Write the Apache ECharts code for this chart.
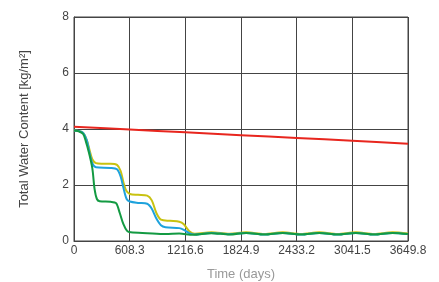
<!DOCTYPE html>
<html><head><meta charset="utf-8">
<script src="https://cdn.jsdelivr.net/npm/echarts@6/dist/echarts.min.js"></script>
<style>html,body{margin:0;padding:0;background:#fff}#c{width:439px;height:282px}</style>
</head><body><div id="c"></div>
<script>
const xTicks = [0, 608.3, 1216.6, 1824.9, 2433.2, 3041.5, 3649.8];
const yTicks = [0, 2, 4, 6, 8];
const redSeries = [[0,4.08],[608.3,3.98],[1216.6,3.88],[1824.9,3.78],[2433.2,3.68],[3041.5,3.58],[3649.8,3.47]];
const yellowSeries = [[0,3.95],[50,3.93],[100,3.86],[140,3.6],[170,3.25],[200,2.92],[240,2.78],[300,2.76],[400,2.76],[470,2.72],[510,2.5],[540,2.1],[570,1.8],[610,1.68],[700,1.65],[800,1.62],[850,1.45],[900,1.0],[950,0.76],[1050,0.72],[1150,0.69],[1200,0.6],[1260,0.35],[1320,0.26],[1500,0.31],[1700,0.26],[1880,0.31],[2080,0.25],[2280,0.31],[2480,0.25],[2680,0.31],[2880,0.25],[3080,0.31],[3280,0.25],[3480,0.31],[3649.8,0.27]];
const blueSeries = [[0,3.95],[50,3.93],[100,3.86],[140,3.6],[170,3.15],[200,2.78],[240,2.63],[400,2.61],[470,2.56],[510,2.3],[540,1.9],[575,1.5],[610,1.41],[700,1.36],[800,1.33],[850,1.15],[900,0.8],[950,0.56],[1000,0.49],[1150,0.46],[1200,0.4],[1260,0.28],[1320,0.23],[1500,0.29],[1700,0.24],[1880,0.29],[2080,0.23],[2280,0.29],[2480,0.23],[2680,0.29],[2880,0.23],[3080,0.29],[3280,0.23],[3480,0.29],[3649.8,0.25]];
const greenSeries = [[0,3.95],[50,3.92],[100,3.82],[130,3.55],[160,3.2],[200,2.6],[225,1.85],[250,1.5],[280,1.42],[400,1.4],[460,1.35],[500,1.0],[540,0.6],[580,0.36],[620,0.31],[800,0.28],[1000,0.25],[1150,0.27],[1300,0.22],[1500,0.28],[1700,0.23],[1880,0.29],[2080,0.23],[2280,0.29],[2480,0.23],[2680,0.29],[2880,0.23],[3080,0.29],[3280,0.23],[3480,0.29],[3649.8,0.25]];

const chart = echarts.init(document.getElementById('c'), null, {renderer:'canvas'});
const fnt = 'Liberation Sans, Arial, sans-serif';
function mk(name, data, color){
  return {name, type:'line', data, showSymbol:false, smooth:0.3, lineStyle:{color, width:2}, itemStyle:{color}, z:3, animation:false};
}
chart.setOption({
  animation:false,
  backgroundColor:'#fff',
  grid:{left:74, right:31, top:17, bottom:41, show:true, borderColor:'#444', borderWidth:1, containLabel:false, outerBoundsMode:'none'},
  xAxis:{type:'value', min:0, max:3649.8, interval:608.3,
    name:'Time (days)', nameLocation:'middle', nameGap:27,
    nameTextStyle:{color:'#999', fontFamily:fnt, fontSize:13},
    axisLine:{show:true, lineStyle:{color:'#444'}}, axisTick:{show:false},
    axisLabel:{color:'#444', fontFamily:fnt, fontSize:12, margin:4, formatter:v=>{const t=xTicks.find(x=>Math.abs(x-v)<0.01);return t===undefined?'':String(t);}},
    splitLine:{show:true, lineStyle:{color:'#444', width:1}}},
  yAxis:{type:'value', min:0, max:8, interval:2,
    name:'Total Water Content [kg/m²]', nameLocation:'middle', nameGap:43,
    nameTextStyle:{color:'#444', fontFamily:fnt, fontSize:13},
    axisLine:{show:true, lineStyle:{color:'#444'}}, axisTick:{show:false},
    axisLabel:{color:'#444', fontFamily:fnt, fontSize:12, margin:5, formatter:v=>yTicks.includes(v)?String(v):''},
    splitLine:{show:true, lineStyle:{color:'#444', width:1}}},
  series:[
    mk('red', redSeries, '#e8261e'),
    mk('yellow', yellowSeries, '#c8c210'),
    mk('blue', blueSeries, '#1ea2dc'),
    mk('green', greenSeries, '#139a42')
  ]
});
</script></body></html>
